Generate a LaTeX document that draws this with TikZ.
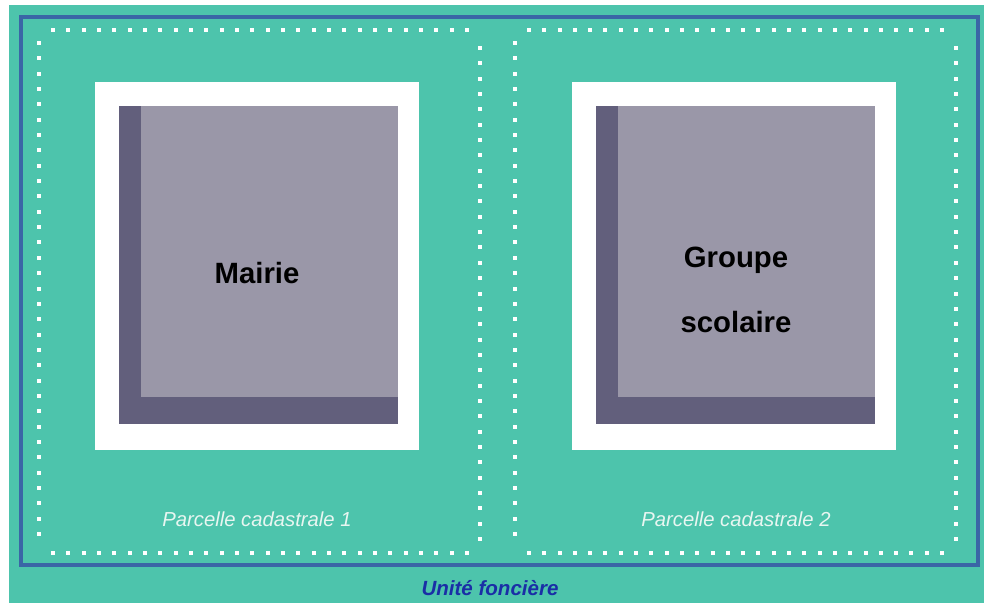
\documentclass[tikz,border=0pt]{standalone}
\usepackage{fontspec}
\setmainfont{Liberation Sans}
\definecolor{teal0}{HTML}{4DC4AC}
\definecolor{frameblue}{HTML}{3A66A6}
\definecolor{lightgray0}{HTML}{9A97A8}
\definecolor{darkgray0}{HTML}{625F7C}
\definecolor{parceltext}{HTML}{E8F6F1}
\definecolor{unitblue}{HTML}{1A2EA6}
\tikzset{
  dotsq/.style={fill=white, draw=none},
  bldlabel/.style={anchor=base, inner sep=0pt, font=\fontsize{22}{26}\selectfont\bfseries, text=black},
  parcellabel/.style={anchor=base, inner sep=0pt, font=\fontsize{15.2}{18}\selectfont\itshape, text=parceltext},
  unitlabel/.style={anchor=base, inner sep=0pt, font=\fontsize{15.4}{18}\selectfont\bfseries\itshape, text=unitblue}
}
\newcommand{\dotrow}[4]{% y, x0, x1, n intervals
  \foreach \i in {0,...,#4} {
    \pgfmathsetmacro{\xx}{#2+(#3-#2)*\i/#4}
    \fill[dotsq] (\xx-2,#1-2) rectangle (\xx+2,#1+2);
  }}
\newcommand{\dotcol}[4]{% x, y0, y1, n intervals
  \foreach \i in {0,...,#4} {
    \pgfmathsetmacro{\yy}{#2+(#3-#2)*\i/#4}
    \fill[dotsq] (#1-2,\yy-2) rectangle (#1+2,\yy+2);
  }}
\begin{document}
\begin{tikzpicture}[x=0.75pt,y=-0.75pt]
\useasboundingbox (0,0) rectangle (984,603);
\fill[white] (0,0) rectangle (984,603);
\fill[teal0] (9,5) rectangle (984,603);
% outer frame
\draw[frameblue, line width=2.4pt] (21,17) rectangle (978,565);
% parcel 1 dotted border
\dotrow{30}{53}{467}{27}
\dotrow{553}{53}{467}{27}
\dotcol{39}{43}{534}{32}
\dotcol{480}{48}{539}{32}
% parcel 2 dotted border
\dotrow{30}{529}{942}{27}
\dotrow{553}{529}{942}{27}
\dotcol{515}{43}{534}{32}
\dotcol{956}{48}{539}{32}
% building 1
\fill[white] (95,82) rectangle (419,450);
\fill[darkgray0] (119,106) rectangle (398,424);
\fill[lightgray0] (141,106) rectangle (398,397);
% building 2
\fill[white] (572,82) rectangle (896,450);
\fill[darkgray0] (596,106) rectangle (875,424);
\fill[lightgray0] (618,106) rectangle (875,397);
% labels
\node[bldlabel] (mairie) at (257,283) {Mairie};
\node[bldlabel] (groupe) at (736,267) {Groupe};
\node[bldlabel] (scolaire) at (736,332) {scolaire};
\node[parcellabel] (p1) at (257,526) {Parcelle cadastrale 1};
\node[parcellabel] (p2) at (736,526) {Parcelle cadastrale 2};
\node[unitlabel] (unit) at (490,595) {Unité foncière};
\end{tikzpicture}
\end{document}
